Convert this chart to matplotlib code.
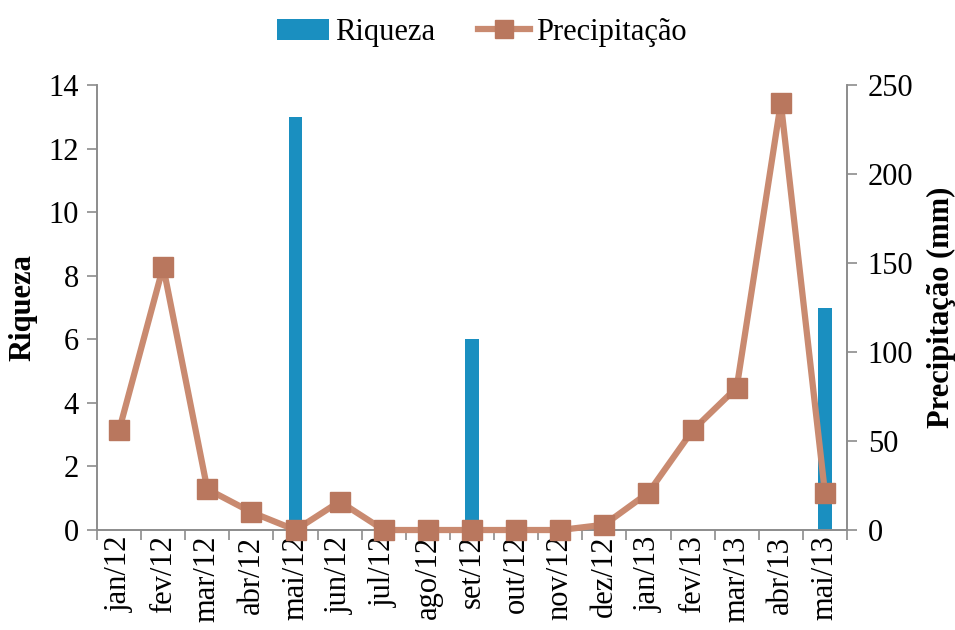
import numpy as np
import matplotlib
matplotlib.use('Agg')
import matplotlib.pyplot as plt

plt.rcParams['font.family'] = ['Liberation Serif', 'DejaVu Serif']

meses = ['jan/12', 'fev/12', 'mar/12', 'abr/12', 'mai/12', 'jun/12', 'jul/12',
         'ago/12', 'set/12', 'out/12', 'nov/12', 'dez/12', 'jan/13', 'fev/13',
         'mar/13', 'abr/13', 'mai/13']
riqueza = [0, 0, 0, 0, 13, 0, 0, 0, 6, 0, 0, 0, 0, 0, 0, 0, 7]
precipitacao = [56, 148, 23, 10, 0, 16, 0, 0, 0, 0, 0, 3, 21, 56, 80, 240, 21]

cor_barra = '#1a8fc0'
cor_linha = '#c98a70'
cor_marca = '#b9775e'
cor_eixo = '#8c8c8c'

x = np.arange(len(meses))

fig = plt.figure(figsize=(9.55, 6.3), dpi=100)
ax = fig.add_axes([0.1016, 0.1587, 0.7853, 0.7063])
ax2 = ax.twinx()

bars = ax.bar(x, riqueza, width=0.3, color=cor_barra, zorder=1, label='Riqueza')
ax.set_ylim(0, 14)
ax.set_yticks(range(0, 15, 2))
ax.set_xlim(-0.5, len(meses) - 0.5)

ax2.set_ylim(0, 250)
ax2.set_yticks(range(0, 251, 50))
line, = ax2.plot(x, precipitacao, color=cor_linha, lw=4.5, marker='s', ms=15,
                 mfc=cor_marca, mec=cor_marca, clip_on=False, zorder=3,
                 label='Precipitação')

# ticks at the month boundaries, labels at the centres
ax.set_xticks(np.arange(-0.5, len(meses), 1.0))
ax.set_xticklabels([])
ax.set_xticks(x, minor=True)
ax.set_xticklabels(meses, minor=True, rotation=90, fontsize=22)
ax.tick_params(axis='x', which='major', direction='out', length=7,
               color=cor_eixo, width=1.2)
ax.tick_params(axis='x', which='minor', length=0, pad=4)
ax.tick_params(axis='y', direction='out', length=7, color=cor_eixo,
               width=1.2, labelsize=22, pad=6)
ax2.tick_params(axis='y', direction='out', length=7, color=cor_eixo,
                width=1.2, labelsize=22, pad=8)

for a in (ax, ax2):
    a.spines['top'].set_visible(False)
    for s in ('left', 'right', 'bottom'):
        a.spines[s].set_color(cor_eixo)
        a.spines[s].set_linewidth(1.2)

ax.set_ylabel('Riqueza', fontsize=22, fontweight='bold', labelpad=8)
ax2.set_ylabel('Precipitação (mm)', fontsize=22, fontweight='bold', labelpad=10)

ax.set_zorder(ax2.get_zorder() - 1)
ax.patch.set_visible(False)
ax2.patch.set_visible(False)

leg = fig.legend([bars, line], ['Riqueza', 'Precipitação'], loc='upper center',
                 bbox_to_anchor=(0.505, 1.015), ncol=2, frameon=False, fontsize=22,
                 handlelength=1.7, columnspacing=1.4, handletextpad=0.2)
leg.legend_handles[1].set_markersize(13)

fig.savefig('out.png', dpi=100)
